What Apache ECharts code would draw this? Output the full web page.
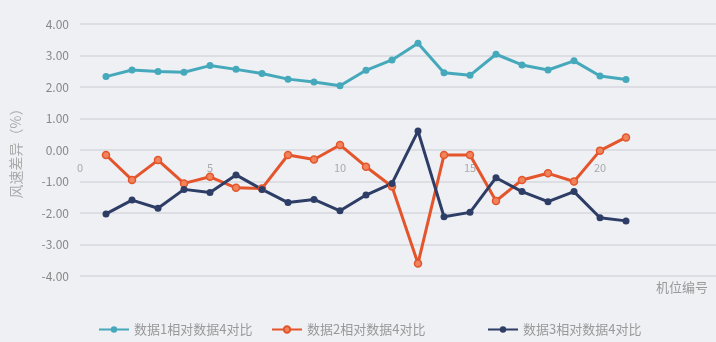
<!DOCTYPE html>
<html>
<head>
<meta charset="utf-8">
<script src="https://cdn.jsdelivr.net/npm/echarts@6/dist/echarts.min.js"></script>
<style>
html,body{margin:0;padding:0;background:#eef0f4;}
#chart{width:716px;height:342px;}
</style>
</head>
<body>
<div id="chart"></div>
<script>
// 机位编号 1..21
const positions = [1,2,3,4,5,6,7,8,9,10,11,12,13,14,15,16,17,18,19,20,21];
const seriesNames = ['数据1相对数据4对比','数据2相对数据4对比','数据3相对数据4对比'];
const diff1 = [2.33,2.54,2.49,2.47,2.68,2.56,2.43,2.25,2.16,2.04,2.53,2.86,3.39,2.45,2.37,3.04,2.70,2.54,2.83,2.35,2.24];
const diff2 = [-0.16,-0.95,-0.32,-1.06,-0.85,-1.20,-1.22,-0.16,-0.30,0.16,-0.53,-1.16,-3.60,-0.16,-0.16,-1.62,-0.95,-0.74,-1.00,-0.02,0.40];
const diff3 = [-2.03,-1.59,-1.85,-1.25,-1.35,-0.79,-1.25,-1.67,-1.57,-1.93,-1.43,-1.06,0.60,-2.12,-1.98,-0.88,-1.32,-1.64,-1.32,-2.15,-2.25];
const colors = ['#45a9bb','#e4552c','#2d3d66'];
const xAxisTitle = '机位编号';

const pairs = vals => positions.map((p,i)=>[p,vals[i]]);
const font = '"Noto Sans CJK SC","Noto Sans",sans-serif';
const gridColor = '#dcdee3';

// one legend block per series so each entry sits at its own spot
const legendLefts = [93,266,482];
const legends = seriesNames.map((n,i)=>({
  data:[n],left:legendLefts[i],top:318,itemWidth:30,itemHeight:8,itemGap:4,
  textStyle:{color:'#999',fontSize:13,fontFamily:font}
}));

const chart = echarts.init(document.getElementById('chart'));
chart.setOption({
  backgroundColor:'#eef0f4',
  color: colors,
  // x-axis title sits under the plot's right end, below the lowest gridline
  title:{text:xAxisTitle,right:8,top:281,padding:0,
    textStyle:{color:'#999',fontSize:13,fontWeight:'normal',fontFamily:font}},
  grid:{left:80,right:-14,top:24,bottom:66,outerBoundsMode:'none',containLabel:false},
  legend:legends,
  xAxis:{
    type:'value',min:0,max:25,interval:5,
    // tick labels run along the zero line (half the plot height above the bottom)
    offset:-126,
    axisLine:{show:false},
    axisTick:{show:false},
    splitLine:{show:false},
    axisLabel:{color:'#aaa',fontSize:11,fontFamily:font,margin:12,
      formatter:v=> (v>=25?'':String(v))}
  },
  yAxis:{
    type:'value',min:-4,max:4,interval:1,
    name:'风速差异（%）',nameLocation:'middle',nameGap:57,nameRotate:90,
    nameTextStyle:{color:'#aaa',fontSize:14,fontFamily:font},
    axisLine:{show:false},axisTick:{show:false},
    axisLabel:{color:'#888',fontSize:12,fontFamily:font,margin:11,formatter:v=>v.toFixed(2)},
    splitLine:{lineStyle:{color:gridColor,width:2}}
  },
  series:[
    {name:seriesNames[0],type:'line',data:pairs(diff1),symbol:'circle',symbolSize:7,
     lineStyle:{width:3,color:colors[0]},itemStyle:{color:colors[0]}},
    {name:seriesNames[1],type:'line',data:pairs(diff2),symbol:'circle',symbolSize:7,
     lineStyle:{width:3,color:colors[1]},itemStyle:{color:'#f0845c',borderColor:colors[1],borderWidth:1.5}},
    {name:seriesNames[2],type:'line',data:pairs(diff3),symbol:'circle',symbolSize:7,
     lineStyle:{width:3,color:colors[2]},itemStyle:{color:colors[2]}}
  ]
});
</script>
</body>
</html>
